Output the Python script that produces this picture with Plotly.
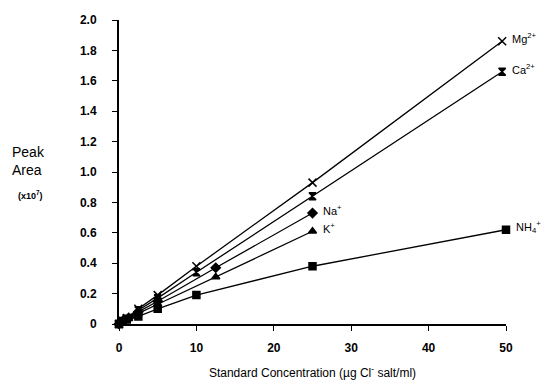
import plotly.graph_objects as go

# Data (x: standard concentration, y: peak area x1e7)
mg_x = [0, 0.5, 1, 2.5, 5, 10, 25, 49.5]
mg_y = [0, 0.02, 0.04, 0.10, 0.19, 0.38, 0.93, 1.86]
ca_x = [0, 0.5, 1, 2.5, 5, 10, 25, 49.5]
ca_y = [0, 0.02, 0.035, 0.09, 0.17, 0.34, 0.84, 1.66]
na_x = [0, 0.5, 1.25, 2.5, 5, 12.5, 25]
na_y = [0, 0.02, 0.04, 0.08, 0.15, 0.37, 0.73]
k_x = [0, 0.5, 1.25, 2.5, 5, 12.5, 25]
k_y = [0, 0.015, 0.035, 0.07, 0.13, 0.31, 0.61]
nh4_x = [0, 0.5, 1, 2.5, 5, 10, 25, 50]
nh4_y = [0, 0.015, 0.03, 0.05, 0.10, 0.19, 0.38, 0.62]

x_ticks = [0, 10, 20, 30, 40, 50]
x_ticktext = ["0", "10", "20", "30", "40", "50"]
y_ticks = [0, 0.2, 0.4, 0.6, 0.8, 1.0, 1.2, 1.4, 1.6, 1.8, 2.0]
y_ticktext = ["0", "0.2", "0.4", "0.6", "0.8", "1.0", "1.2", "1.4", "1.6", "1.8", "2.0"]

series = [
    ("Mg<sup>2+</sup>", mg_x, mg_y, "x-thin", 8),
    ("Ca<sup>2+</sup>", ca_x, ca_y, "hourglass", 7),
    ("Na<sup>+</sup>", na_x, na_y, "diamond", 7),
    ("K<sup>+</sup>", k_x, k_y, "triangle-up", 7),
    ("NH<sub>4</sub><sup>+</sup>", nh4_x, nh4_y, "square", 7),
]

font = "Arial"
fig = go.Figure()
for name, xs, ys, sym, size in series:
    fig.add_trace(go.Scatter(
        x=xs, y=ys, mode="lines+markers", name=name, cliponaxis=False,
        line=dict(color="black", width=1.3),
        marker=dict(symbol=sym, size=size, color="black",
                    line=dict(color="black", width=1.5)),
    ))
    fig.add_annotation(x=xs[-1], y=ys[-1], text=name, showarrow=False,
                       xanchor="left", xshift=8, yshift=3,
                       font=dict(family=font, size=11, color="black"))

fig.add_annotation(xref="paper", yref="paper", x=-0.185, y=0.535,
                   text="Peak<br>Area", showarrow=False, align="left",
                   xanchor="right", font=dict(family=font, size=14, color="black"))
fig.add_annotation(xref="paper", yref="paper", x=-0.19, y=0.425,
                   text="<b>(x10<sup>7</sup>)</b>", showarrow=False, align="left",
                   xanchor="right", font=dict(family=font, size=9, color="black"))

fig.update_layout(
    width=549, height=390,
    margin=dict(l=119, r=43, t=20, b=64),
    plot_bgcolor="white", paper_bgcolor="white",
    showlegend=False,
    font=dict(family=font, color="black"),
    xaxis=dict(range=[0, 50], tickvals=x_ticks,
               ticktext=["<b>%s</b>" % t for t in x_ticktext],
               showline=True, linecolor="black", linewidth=2,
               ticks="outside", ticklen=5, tickwidth=1.2, tickcolor="black",
               showgrid=False, zeroline=False,
               tickfont=dict(family=font, size=12),
               ticklabelstandoff=7,
               title=dict(text="Standard Concentration (µg Cl<sup>-</sup> salt/ml)",
                          font=dict(family=font, size=12), standoff=14)),
    yaxis=dict(range=[0, 2.0], tickvals=y_ticks,
               ticktext=["<b>%s</b>" % t for t in y_ticktext],
               showline=True, linecolor="black", linewidth=2,
               ticks="outside", ticklen=5, tickwidth=1.2, tickcolor="black",
               showgrid=False, zeroline=False,
               tickfont=dict(family=font, size=12),
               ticklabelstandoff=13),
)
fig.write_html("out.html")
